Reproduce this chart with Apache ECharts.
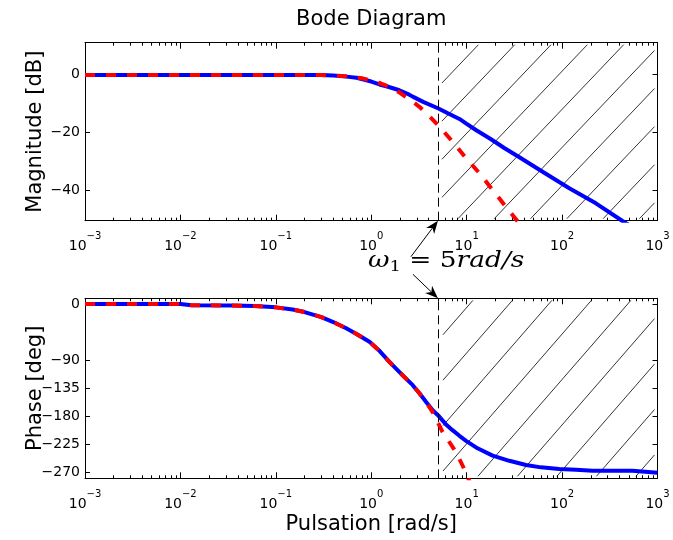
<!DOCTYPE html>
<html><head><meta charset="utf-8">
<script src="https://cdn.jsdelivr.net/npm/echarts@6/dist/echarts.min.js"></script>
<style>html,body{margin:0;padding:0;background:#fff}#c{width:673px;height:540px}</style>
</head><body><div id="c"></div>
<script>
// ---------- data ----------
const xTicks = [0.001, 0.01, 0.1, 1, 10, 100, 1000];
const magTicks = [0, -20, -40];
const phaseTicks = [0, -90, -135, -180, -225, -270];
const cutoff = 5;

const magFreqBlue = [0.001, 0.3, 0.4, 0.55, 0.7, 0.81, 1.0, 1.22, 1.5, 1.97, 2.4, 2.72, 3.5, 5, 6.5, 8.4, 10, 12.5, 18, 25, 34, 62.5, 119, 226, 430, 1000];
const magBlue     = [-0.3, -0.35, -0.5, -0.9, -1.3, -1.8, -2.6, -3.6, -4.4, -5.6, -6.8, -7.8, -9.6, -11.8, -13.7, -15.5, -17.2, -19.3, -22.5, -25.6, -28.3, -33.7, -39.4, -44.6, -50.7, -58];

const magFreqRed = [0.001, 0.3, 0.4, 0.55, 0.81, 1.0, 1.25, 1.55, 2.0, 2.5, 3.2, 4, 5, 7.1, 9.9, 13.6, 18.7, 25.8, 34, 50];
const magRed     = [-0.3, -0.35, -0.5, -0.8, -1.5, -2.3, -3.2, -4.4, -6.5, -8.7, -11.3, -14.3, -17.6, -23.3, -29.1, -34.2, -40, -45.8, -50.7, -57];

const phaseFreqBlue = [0.001, 0.01, 0.013, 0.035, 0.06, 0.1, 0.15, 0.2, 0.3, 0.4, 0.546, 0.7, 0.957, 1.2, 1.55, 2.0, 2.72, 3.2, 3.76, 4.4, 5, 6, 7.1, 8.4, 9.86, 13, 18.7, 28, 41.9, 60, 93.5, 140, 209, 547, 1000];
const phaseBlue     = [0, 0, -2, -2.5, -3.5, -5.5, -9, -13, -21, -29, -39, -48, -60.6, -74, -92.7, -110, -130, -143, -157, -170, -178, -192, -202, -211, -219, -231, -242.7, -251, -257.7, -261.5, -264, -265.5, -266.8, -267, -270];

const phaseFreqRed = [0.001, 0.01, 0.013, 0.035, 0.06, 0.1, 0.15, 0.2, 0.3, 0.4, 0.546, 0.7, 0.957, 1.2, 1.55, 2.0, 2.72, 3.2, 3.76, 4.4, 5, 5.6, 7.74, 10.2, 11];
const phaseRed     = [0, 0, -2, -2.5, -3.5, -5.5, -9, -13, -21, -29, -39, -48, -60.6, -74, -92.7, -110, -130, -143, -157, -173, -190, -205, -237, -275, -290];

// ---------- helpers ----------
const zip = (xs, ys) => xs.map((x, i) => [x, ys[i]]);
const minorTicks = [];
for (let e = -3; e < 3; e++) for (let m = 2; m <= 9; m++) minorTicks.push(m * Math.pow(10, e));

const FONT = '"DejaVu Sans", sans-serif';
const BLUE = '#0000ff', RED = '#ff0000';

function xAxisSet(gridIndex, withLabels, name) {
  const base = { type: 'log', logBase: 10, min: 0.001, max: 1000, gridIndex, splitLine: { show: false } };
  const sup = (v) => {
    const e = Math.round(Math.log10(v));
    return '{b|10}{s|' + (e < 0 ? '\u2212' + (-e) : e) + '}';
  };
  return [
    Object.assign({}, base, {
      position: 'bottom',
      axisLine: { show: true, onZero: false, lineStyle: { color: '#000', width: 1 } },
      axisTick: { show: true, inside: true, length: 6, customValues: xTicks, lineStyle: { color: '#000', width: 1 } },
      axisLabel: withLabels ? {
        show: true, customValues: xTicks, margin: 11, formatter: sup, color: '#000',
        rich: {
          b: { fontFamily: FONT, fontSize: 14, lineHeight: 22, verticalAlign: 'bottom', color: '#000' },
          s: { fontFamily: FONT, fontSize: 10, lineHeight: 12, verticalAlign: 'top', color: '#000' }
        }
      } : { show: false },
      name: name || '', nameLocation: 'middle', nameGap: 36, nameMoveOverlap: false,
      nameTextStyle: { fontFamily: FONT, fontSize: 21, color: '#000' }
    }),
    Object.assign({}, base, {
      position: 'bottom', axisLine: { show: false, onZero: false },
      axisTick: { show: true, inside: true, length: 3, customValues: minorTicks, lineStyle: { color: '#000', width: 1 } },
      axisLabel: { show: false }
    }),
    Object.assign({}, base, {
      position: 'top', axisLine: { show: true, onZero: false, lineStyle: { color: '#000', width: 1 } },
      axisTick: { show: true, inside: true, length: 6, customValues: xTicks, lineStyle: { color: '#000', width: 1 } },
      axisLabel: { show: false }
    }),
    Object.assign({}, base, {
      position: 'top', axisLine: { show: false, onZero: false },
      axisTick: { show: true, inside: true, length: 3, customValues: minorTicks, lineStyle: { color: '#000', width: 1 } },
      axisLabel: { show: false }
    })
  ];
}

function yAxisSet(gridIndex, min, max, ticks, name) {
  const base = { type: 'value', min, max, gridIndex, splitLine: { show: false } };
  return [
    Object.assign({}, base, {
      position: 'left',
      axisLine: { show: true, onZero: false, lineStyle: { color: '#000', width: 1 } },
      axisTick: { show: true, inside: true, length: 5, customValues: ticks, lineStyle: { color: '#000', width: 1 } },
      axisLabel: {
        show: true, customValues: ticks, margin: 5, color: '#000', fontFamily: FONT, fontSize: 14,
        formatter: (v) => (v < 0 ? '\u2212' + Math.abs(v) : String(v))
      },
      name, nameLocation: 'middle', nameGap: 39, nameMoveOverlap: false,
      nameTextStyle: { fontFamily: FONT, fontSize: 21, color: '#000' }
    }),
    Object.assign({}, base, {
      position: 'right',
      axisLine: { show: true, onZero: false, lineStyle: { color: '#000', width: 1 } },
      axisTick: { show: true, inside: true, length: 5, customValues: ticks, lineStyle: { color: '#000', width: 1 } },
      axisLabel: { show: false }
    })
  ];
}

// hatch decoration (diagonal lines right of the cutoff)
function hatchSeries(xi, yi, cfg) {
  return {
    type: 'custom', xAxisIndex: xi, yAxisIndex: yi, z: 1, silent: true,
    data: [[cutoff, 0]],
    renderItem: function (params, api) {
      const cs = params.coordSys;
      const xL = api.coord([cutoff, 0])[0] + cfg.padL;
      const xR = cs.x + cs.width - cfg.padR;
      const yT = cs.y + cfg.padT;
      const yB = cs.y + cs.height - cfg.padB;
      const H = yB - yT;
      const children = [];
      for (let xt = xL + cfg.offset; xt < xR + H / cfg.slope; xt += cfg.spacing) {
        let xa = xt - H / cfg.slope, ya = yB, xb = xt, yb = yT;
        if (xa < xL) { ya = yT + cfg.slope * (xt - xL); xa = xL; }
        if (xb > xR) { yb = yT + cfg.slope * (xt - xR); xb = xR; }
        if (xa >= xb - 1) continue;
        children.push({ type: 'line', shape: { x1: xa, y1: ya, x2: xb, y2: yb }, style: { stroke: '#000', lineWidth: 0.8 } });
      }
      return { type: 'group', children };
    }
  };
}

function lineSeries(xi, yi, data, color, dashed, withMark) {
  const s = {
    type: 'line', xAxisIndex: xi, yAxisIndex: yi, data, showSymbol: false, symbol: 'none',
    smooth: false, clip: true, z: dashed ? 4 : 3, animation: false,
    lineStyle: { color, width: 4, type: dashed ? [10, 11] : 'solid', join: 'round' }
  };
  if (withMark) {
    s.markLine = {
      silent: true, symbol: ['none', 'none'], label: { show: false }, animation: false,
      lineStyle: { color: '#000', width: 1, type: [9, 5] },
      data: [{ xAxis: cutoff }]
    };
  }
  return s;
}

const chart = echarts.init(document.getElementById('c'), null, { renderer: 'canvas' });
const option = {
  animation: false,
  backgroundColor: '#fff',
  grid: [
    { left: 85, right: 15.5, top: 42.7, height: 178 },
    { left: 85, right: 15.5, top: 298.3, height: 180 }
  ],
  xAxis: [].concat(xAxisSet(0, true), xAxisSet(1, true, 'Pulsation [rad/s]')),
  yAxis: [].concat(yAxisSet(0, -50.6, 10.8, magTicks, 'Magnitude [dB]'), yAxisSet(1, -279, 9, phaseTicks, 'Phase [deg]')),
  series: [
    hatchSeries(0, 0, { padL: 4, padR: 3, padT: 2, padB: 2, slope: 1.05, spacing: 36.3, offset: 36.5 }),
    hatchSeries(4, 2, { padL: 5, padR: 3, padT: 2, padB: 2, slope: 1.15, spacing: 39.5, offset: 30 }),
    lineSeries(0, 0, zip(magFreqBlue, magBlue), BLUE, false, true),
    lineSeries(0, 0, zip(magFreqRed, magRed), RED, true, false),
    lineSeries(4, 2, zip(phaseFreqBlue, phaseBlue), BLUE, false, true),
    lineSeries(4, 2, zip(phaseFreqRed, phaseRed), RED, true, false)
  ]
};
chart.setOption(option);

// annotation: title, omega label and arrows (anchored via the axes)
const pTop = chart.convertToPixel({ xAxisIndex: 0, yAxisIndex: 0 }, [cutoff, -50.6]);
const pBot = chart.convertToPixel({ xAxisIndex: 4, yAxisIndex: 2 }, [cutoff, 9]);
function arrow(tail, tip) {
  const dx = tip[0] - tail[0], dy = tip[1] - tail[1];
  const L = Math.hypot(dx, dy), ux = dx / L, uy = dy / L, nx = -uy, ny = ux;
  const HL = 13, HW = 5;
  const bx = tip[0] - ux * HL, by = tip[1] - uy * HL;
  const notch = [tip[0] - ux * HL * 0.7, tip[1] - uy * HL * 0.7];
  return [
    { type: 'line', shape: { x1: tail[0], y1: tail[1], x2: notch[0], y2: notch[1] }, style: { stroke: '#000', lineWidth: 1 } },
    { type: 'polygon', shape: { points: [tip, [bx + nx * HW, by + ny * HW], notch, [bx - nx * HW, by - ny * HW]] }, style: { fill: '#000' } }
  ];
}
const left0 = chart.convertToPixel({ xAxisIndex: 0 }, 0.001), right0 = chart.convertToPixel({ xAxisIndex: 0 }, 1000);
chart.setOption({
  graphic: [
    { type: 'text', x: (left0 + right0) / 2, y: 20, z: 10,
      style: { text: 'Bode Diagram', fontFamily: FONT, fontSize: 21, fill: '#000', align: 'center', verticalAlign: 'middle' } },
    { type: 'text', x: pTop[0] - 70, y: pTop[1] + 41, z: 10, scaleX: 1.2,
      style: {
        text: '{i|\u03c9}{sub|1}{n| = 5}{i|rad/s}', fill: '#000', align: 'left', verticalAlign: 'middle',
        rich: {
          i: { fontFamily: '"DejaVu Serif", serif', fontStyle: 'italic', fontSize: 22, lineHeight: 26, fill: '#000' },
          n: { fontFamily: '"DejaVu Serif", serif', fontSize: 22, lineHeight: 26, fill: '#000' },
          sub: { fontFamily: '"DejaVu Serif", serif', fontSize: 15, lineHeight: 14, verticalAlign: 'bottom', fill: '#000' }
        }
      } }
  ].concat(
    arrow([pTop[0] - 27, pTop[1] + 36], pTop),
    arrow([pBot[0] - 25, pBot[1] - 24], pBot)
  )
});
</script>
</body></html>
